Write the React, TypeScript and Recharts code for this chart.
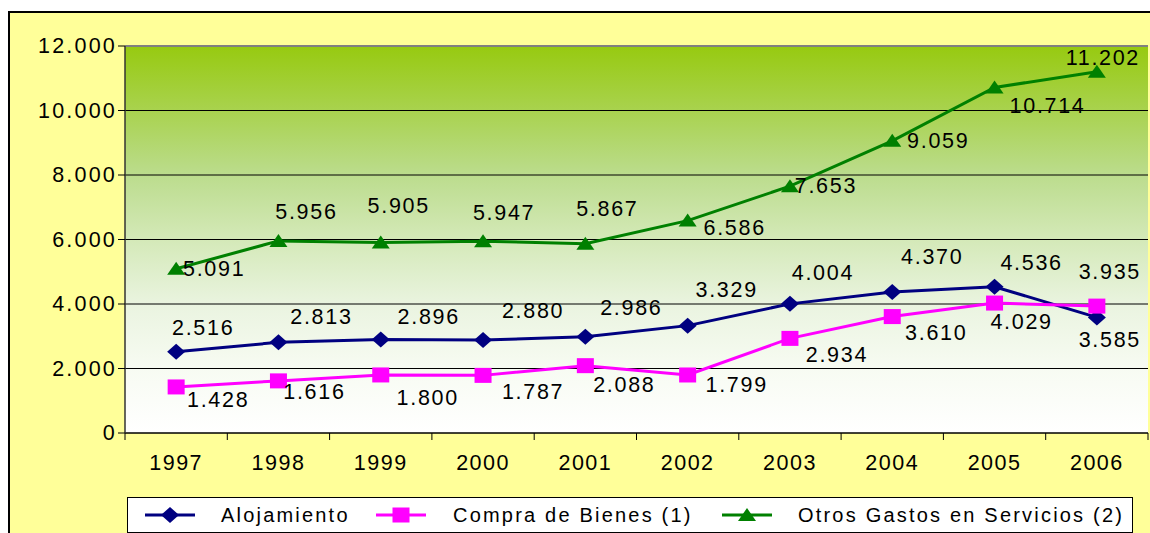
import React from 'react';
import { LineChart, Line, XAxis, YAxis, CartesianGrid, LabelList, Legend, ReferenceLine } from 'recharts';

const years = ['1997', '1998', '1999', '2000', '2001', '2002', '2003', '2004', '2005', '2006'];
const alojamiento = [2516, 2813, 2896, 2880, 2986, 3329, 4004, 4370, 4536, 3585];
const compraBienes = [1428, 1616, 1800, 1787, 2088, 1799, 2934, 3610, 4029, 3935];
const otrosGastos = [5091, 5956, 5905, 5947, 5867, 6586, 7653, 9059, 10714, 11202];
const yTicks = [0, 2000, 4000, 6000, 8000, 10000, 12000];

const seriesNames = ['Alojamiento', 'Compra de Bienes (1)', 'Otros Gastos en Servicios (2)'];
const seriesColors = ['#000080', '#FF00FF', '#008000'];

// label placement relative to each point (layout only)
const alojLabelOffset = [[27, -24], [43, -25], [48, -23], [50, -29], [46, -29], [39, -36], [33, -31], [40, -35], [37, -24], [13, 23]];
const compraLabelOffset = [[42, 13], [36, 11], [47, 23], [50, 17], [39, 19], [49, 10], [47, 17], [44, 16], [27, 19], [13, -34]];
const otrosLabelOffset = [[38, 0], [28, -29], [18, -37], [21, -28], [22, -35], [47, 7], [36, 0], [46, 0], [53, 19], [6, -14]];

const data = years.map((y, i) => ({
  year: y,
  aloj: alojamiento[i],
  compra: compraBienes[i],
  otros: otrosGastos[i],
}));

const FONT = '"Liberation Sans", Arial, sans-serif';

const fmt = (v: number) => {
  const s = String(Math.round(v));
  return s.replace(/\B(?=(\d{3})+(?!\d))/g, '.');
};

const makeLabel = (offsets: number[][]) => (props: any) => {
  const { x, y, value, index } = props;
  const o = offsets[index] || [0, 0];
  return (
    <text
      x={x + o[0]}
      y={y + o[1]}
      textAnchor="middle"
      dominantBaseline="central"
      fontFamily={FONT}
      fontSize={21.5}
      style={{ letterSpacing: '1.7px' }}
      fill="#000"
    >
      {fmt(value)}
    </text>
  );
};

const Diamond = (props: any) => {
  const { cx, cy, fill } = props;
  if (cx == null || cy == null) return null;
  return <path d={`M${cx},${cy - 8} L${cx + 9},${cy} L${cx},${cy + 8} L${cx - 9},${cy} Z`} fill={fill} />;
};
const Square = (props: any) => {
  const { cx, cy, fill } = props;
  if (cx == null || cy == null) return null;
  return <rect x={cx - 8.5} y={cy - 7.5} width={17} height={15} fill={fill} />;
};
const Triangle = (props: any) => {
  const { cx, cy, fill } = props;
  if (cx == null || cy == null) return null;
  return <path d={`M${cx},${cy - 7} L${cx + 9},${cy + 6} L${cx - 9},${cy + 6} Z`} fill={fill} />;
};

const YTick = (props: any) => {
  const { x, y, payload } = props;
  return (
    <text x={x + 2} y={y} textAnchor="end" dominantBaseline="central" fontFamily={FONT} fontSize={21.5} style={{ letterSpacing: '2.2px' }} fill="#000">
      {fmt(payload.value)}
    </text>
  );
};

const BAND = (1140 - 117) / 10;

const XTick = (props: any) => {
  const { x, y, payload, index } = props;
  return (
    <g>
      <line x1={x - BAND / 2} y1={y} x2={x - BAND / 2} y2={y + 7} stroke="#000" strokeWidth={1} />
      {index === years.length - 1 && (
        <line x1={x + BAND / 2} y1={y} x2={x + BAND / 2} y2={y + 7} stroke="#000" strokeWidth={1} />
      )}
      <text x={x} y={y + 30} textAnchor="middle" dominantBaseline="central" fontFamily={FONT} fontSize={21.5} style={{ letterSpacing: '1.5px' }} fill="#000">
        {payload.value}
      </text>
    </g>
  );
};

const LegendIcon = ({ i }: { i: number }) => {
  const c = seriesColors[i];
  return (
    <svg width={52} height={20} style={{ display: 'block' }}>
      <line x1={1} y1={10} x2={51} y2={10} stroke={c} strokeWidth={3} />
      {i === 0 && <path d="M26,2 L35,10 L26,18 L17,10 Z" fill={c} />}
      {i === 1 && <rect x={17.5} y={2.5} width={17} height={15} fill={c} />}
      {i === 2 && <path d="M26,3 L35,16 L17,16 Z" fill={c} />}
    </svg>
  );
};

const legendLineX = [16, 247, 593];
const legendTextX = [93, 325, 670];

const LegendContent = () => (
  <div
    style={{
      position: 'relative',
      width: 1006,
      height: 36,
      boxSizing: 'border-box',
      background: '#fff',
      border: '1.5px solid #000',
      fontFamily: FONT,
      fontSize: 20,
      letterSpacing: 2.2,
      color: '#000',
    }}
  >
    {seriesNames.map((n, i) => (
      <React.Fragment key={n}>
        <div style={{ position: 'absolute', left: legendLineX[i], top: 7 }}>
          <LegendIcon i={i} />
        </div>
        <div style={{ position: 'absolute', left: legendTextX[i], top: 5, whiteSpace: 'nowrap', lineHeight: '24px' }}>{n}</div>
      </React.Fragment>
    ))}
  </div>
);

export default function App() {
  return (
    <div style={{ position: 'fixed', left: 8, top: 8, width: 1142, height: 525, overflow: 'hidden' }}>
      <style>{`html,body{overflow:hidden}`}</style>
      <div
        style={{
          position: 'absolute',
          left: 0,
          top: 3,
          width: 1160,
          height: 540,
          background: '#FFFF99',
          borderLeft: '2px solid #000',
          borderTop: '2px solid #000',
        }}
      />
      <div style={{ position: 'absolute', left: 0, top: 0 }}>
        <LineChart width={1142} height={525} data={data} margin={{ top: 38, right: 2, left: 0, bottom: 0 }}>
          <defs>
            <linearGradient id="plotGrad" x1="0" y1="0" x2="0" y2="1">
              <stop offset="0%" stopColor="#97CA10" />
              <stop offset="16%" stopColor="#A8D24C" />
              <stop offset="33%" stopColor="#BBDC8C" />
              <stop offset="50%" stopColor="#D4E9B8" />
              <stop offset="67%" stopColor="#EAF4E0" />
              <stop offset="83%" stopColor="#F7FBF2" />
              <stop offset="100%" stopColor="#FFFFFF" />
            </linearGradient>
          </defs>
          <CartesianGrid vertical={false} stroke="#000" strokeWidth={1} fill="url(#plotGrad)" fillOpacity={1} />
          <XAxis
            dataKey="year"
            scale="band"
            tickLine={false}
            tickSize={0}
            tickMargin={0}
            axisLine={{ stroke: '#000', strokeWidth: 1 }}
            tick={<XTick />}
            height={64}
            interval={0}
          />
          <YAxis
            width={117}
            domain={[0, 12000]}
            ticks={yTicks}
            tickSize={7}
            tickMargin={3}
            tickLine={{ stroke: '#000' }}
            axisLine={{ stroke: '#333', strokeWidth: 1.5 }}
            tick={<YTick />}
            interval={0}
          />
          <YAxis yAxisId="right" orientation="right" width={0} domain={[0, 12000]} tick={false} tickLine={false} axisLine={{ stroke: '#808080', strokeWidth: 2 }} />
          <ReferenceLine y={12000} stroke="#808080" strokeWidth={2} />
          <Legend verticalAlign="bottom" content={<LegendContent />} wrapperStyle={{ left: 119, top: 489, bottom: 'auto', width: 1006, height: 36 }} />
          <Line
            dataKey="aloj"
            name={seriesNames[0]}
            stroke={seriesColors[0]}
            strokeWidth={3}
            dot={<Diamond fill={seriesColors[0]} />}
            isAnimationActive={false}
          >
            <LabelList dataKey="aloj" content={makeLabel(alojLabelOffset)} />
          </Line>
          <Line
            dataKey="compra"
            name={seriesNames[1]}
            stroke={seriesColors[1]}
            strokeWidth={3}
            dot={<Square fill={seriesColors[1]} />}
            isAnimationActive={false}
          >
            <LabelList dataKey="compra" content={makeLabel(compraLabelOffset)} />
          </Line>
          <Line
            dataKey="otros"
            name={seriesNames[2]}
            stroke={seriesColors[2]}
            strokeWidth={3}
            dot={<Triangle fill={seriesColors[2]} />}
            isAnimationActive={false}
          >
            <LabelList dataKey="otros" content={makeLabel(otrosLabelOffset)} />
          </Line>
        </LineChart>
      </div>
    </div>
  );
}
